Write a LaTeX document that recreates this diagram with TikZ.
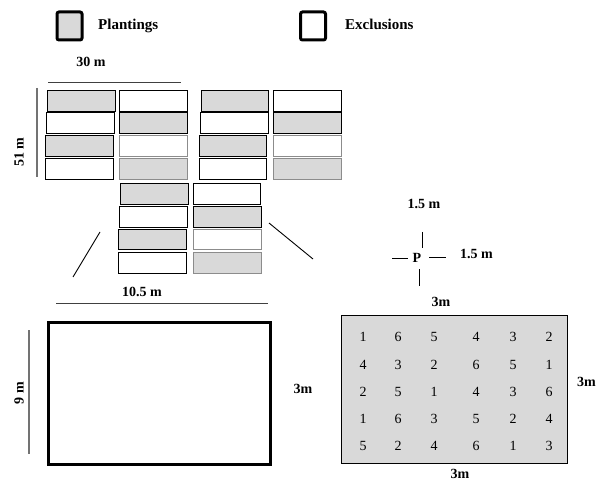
\documentclass[tikz,border=0pt]{standalone}
\usepackage{fontspec}
\setmainfont{Liberation Serif}
\definecolor{plantgray}{HTML}{D9D9D9}
\definecolor{edgegray}{HTML}{8C8C8C}
\newcommand\bed[6]{\node[#6, anchor=north west, minimum width={(#4)-(#2)}, minimum height={(#5)-(#3)}] (#1) at (#2,#3) {};}
\begin{document}
\begin{tikzpicture}[x=1pt,y=-1pt,
  bedbox/.style={draw=black, line width=0.9pt, inner sep=0pt, outer sep=0pt},
  pl/.style={bedbox, fill=plantgray},
  ex/.style={bedbox, fill=white},
  lite/.style={draw=edgegray},
  legbox/.style={draw=black, line width=3pt, rounded corners=2pt, minimum width=25, minimum height=28, inner sep=0pt},
  leg/.style={font=\fontsize{15}{17}\selectfont\bfseries, inner sep=0pt, anchor=base west},
  lbl/.style={font=\fontsize{14}{16}\selectfont\bfseries, inner sep=0pt},
  num/.style={font=\fontsize{14}{16}\selectfont, inner sep=0pt},
  dimline/.style={line width=1pt, draw=black!75},
  greyline/.style={line width=1.4pt, draw=black!55},
  thin/.style={line width=0.9pt, draw=black}]
\useasboundingbox (0,0) rectangle (597,481);

% legend
\node[legbox, fill=plantgray] (legP) at (69.5,26) {};
\node[leg] (legPt) at (98,30) {Plantings};
\node[legbox, fill=white] (legE) at (313,26) {};
\node[leg] (legEt) at (345,30) {Exclusions};

% beds
\bed{a1}{47}{90}{115}{111}{pl}
\bed{a2}{119}{90}{187}{111}{ex}
\bed{a3}{201}{90}{268}{111}{pl}
\bed{a4}{273}{90}{341}{111}{ex}
\bed{b1}{46}{112}{114}{133}{ex}
\bed{b2}{119}{112}{187}{133}{pl}
\bed{b3}{200}{112}{268}{133}{ex}
\bed{b4}{273}{112}{341}{133}{pl}
\bed{c1}{45}{135}{113}{156}{pl}
\bed{c2}{119}{135}{187}{156}{ex,lite}
\bed{c3}{199}{135}{266}{156}{pl}
\bed{c4}{273}{135}{341}{156}{ex,lite}
\bed{d1}{45}{158}{113}{179}{ex}
\bed{d2}{119}{158}{187}{179}{pl,lite}
\bed{d3}{199}{158}{266}{179}{ex}
\bed{d4}{273}{158}{341}{179}{pl,lite}
\bed{e1}{120}{183}{188}{204}{pl}
\bed{e2}{193}{183}{260}{204}{ex}
\bed{f1}{119}{206}{187}{227}{ex}
\bed{f2}{193}{206}{261}{227}{pl}
\bed{g1}{118}{229}{186}{249}{pl}
\bed{g2}{193}{229}{261}{249}{ex,lite}
\bed{h1}{118}{252}{186}{273}{ex}
\bed{h2}{193}{252}{261}{273}{pl,lite}

% dimensions of field
\coordinate (w1) at (48,83); \coordinate (w2) at (181,83);
\draw[dimline] (w1) -- (w2);
\node[lbl] (w) at (91,62) {30 m};
\coordinate (h1c) at (37,88); \coordinate (h2c) at (37,177);
\draw[greyline] (h1c) -- (h2c);
\node[lbl, rotate=90] (hh) at (19,152) {51 m};

% zoom lines
\coordinate (zl1) at (100,232); \coordinate (zl2) at (73,277);
\coordinate (zr1) at (269,223); \coordinate (zr2) at (313,259);
\draw[thin] (zl1) -- (zl2);
\draw[thin] (zr1) -- (zr2);

% plot
\node[lbl] (tw) at (142,292) {10.5 m};
\coordinate (pw1) at (56,303); \coordinate (pw2) at (268,303);
\draw[dimline] (pw1) -- (pw2);
\node[draw=black, line width=3pt, anchor=north west, minimum width=222, minimum height=142, inner sep=0pt] (plot) at (47,321) {};
\coordinate (ph1) at (29,330); \coordinate (ph2) at (29,454);
\draw[greyline] (ph1) -- (ph2);
\node[lbl, rotate=90] (ph) at (19,393) {9 m};
\node[lbl] (p3) at (303,389) {3m};

% P cross
\node[lbl] (P) at (417,258) {P};
\coordinate (pu1) at (422,232); \coordinate (pu2) at (422,248);
\coordinate (pl1) at (392,258); \coordinate (pl2) at (408,258);
\coordinate (pr1) at (429,257); \coordinate (pr2) at (446,257);
\coordinate (pd1) at (419,269); \coordinate (pd2) at (419,286);
\draw[thin] (pu1) -- (pu2);
\draw[thin] (pl1) -- (pl2);
\draw[thin] (pr1) -- (pr2);
\draw[thin] (pd1) -- (pd2);
\node[lbl] (t15a) at (424,204) {1.5 m};
\node[lbl, anchor=west] (t15b) at (460,254) {1.5 m};
\node[lbl] (t3a) at (441,302) {3m};

% subplot grid
\node[draw=black, line width=0.9pt, fill=plantgray, anchor=north west, minimum width=226, minimum height=148, inner sep=0pt] (sub) at (341,315) {};
\foreach \r/\y/\row in {1/337/{1,6,5,4,3,2}, 2/365/{4,3,2,6,5,1}, 3/392/{2,5,1,4,3,6}, 4/419/{1,6,3,5,2,4}, 5/446/{5,2,4,6,1,3}}{
  \foreach \v [count=\c] in \row {
    \pgfmathsetmacro\xx{{363,398,434,476,513,549}[\c-1]}
    \node[num] (n-\r-\c) at (\xx,\y) {\v};
  }
}
\node[lbl, anchor=east] (t3r) at (596,382) {3m};
\node[lbl] (t3b) at (460,474) {3m};
\end{tikzpicture}
\end{document}
